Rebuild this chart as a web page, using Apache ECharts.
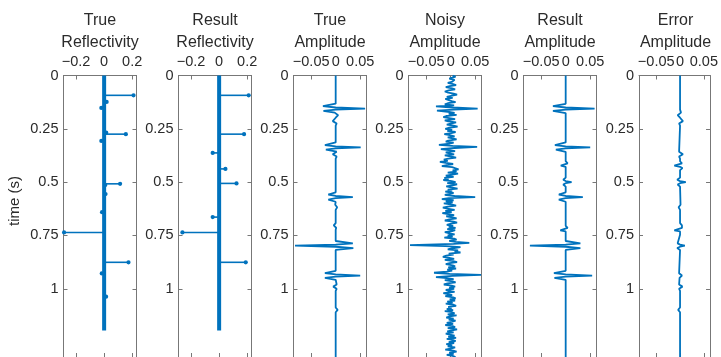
<!DOCTYPE html>
<html>
<head>
<meta charset="utf-8">
<title>Reflectivity and amplitude traces</title>
<script src="https://cdn.jsdelivr.net/npm/echarts@6/dist/echarts.min.js"></script>
<style>
html, body { margin: 0; padding: 0; background: #fff; }
#chart { width: 721px; height: 357px; }
</style>
</head>
<body>
<div id="chart"></div>
<script>
// ---- data ----
const panelTitles = ['True\nReflectivity', 'Result\nReflectivity', 'True\nAmplitude',
    'Noisy\nAmplitude', 'Result\nAmplitude', 'Error\nAmplitude'];
const timeTicks = [0, 0.25, 0.5, 0.75, 1];
const reflTicks = [-0.2, 0, 0.2];
const ampTicks = [-0.05, 0, 0.05];
const timeMax = 1.32;
const reflRange = [-0.29, 0.231];
const ampRange = [-0.0861, 0.0629];

// reflectivity spikes (time s, value)
const reflTrueT = [0.093, 0.124, 0.152, 0.268, 0.275, 0.307, 0.508, 0.514, 0.556, 0.641, 0.736, 0.876, 0.928, 1.037];
const reflTrueV = [0.210, 0.018, -0.020, 0.015, 0.155, -0.020, 0.114, 0.008, 0.010, -0.015, -0.286, 0.174, -0.017, 0.014];
const reflResT = [0.093, 0.275, 0.363, 0.438, 0.506, 0.664, 0.736, 0.876];
const reflResV = [0.211, 0.178, -0.046, 0.045, 0.124, -0.046, -0.262, 0.190];
const reflEnd = 1.196; // last sample of the reflectivity series (all zeros in between)

// amplitude traces, [time, amplitude]
const trueAmp = [
    [0, 0], [0.132, 0], [0.144, -0.026], [0.150, 0], [0.155, 0.060], [0.160, 0], [0.166, -0.025],
    [0.174, -0.002], [0.186, 0.005], [0.198, 0], [0.214, -0.006], [0.225, 0.002], [0.235, 0],
    [0.314, 0], [0.326, -0.022], [0.332, 0], [0.337, 0.051], [0.342, 0], [0.348, -0.020],
    [0.357, 0.002], [0.369, -0.006], [0.380, 0.002], [0.390, 0],
    [0.548, 0], [0.558, -0.015], [0.565, 0], [0.570, 0.035], [0.575, 0], [0.582, -0.015], [0.592, 0],
    [0.606, -0.001], [0.618, 0.003], [0.630, 0], [0.692, 0], [0.703, -0.004], [0.714, 0.001], [0.724, 0],
    [0.776, 0], [0.787, 0.035], [0.793, 0], [0.798, -0.083], [0.803, 0], [0.809, 0.036], [0.818, 0],
    [0.916, 0], [0.927, -0.022], [0.933, 0], [0.938, 0.050], [0.943, 0], [0.949, -0.022], [0.958, 0],
    [0.980, 0.002], [0.990, -0.005], [1.000, 0.002], [1.010, 0],
    [1.088, 0], [1.099, 0.004], [1.110, 0], [1.320, 0]
];

// noisy trace, one sample every 5 ms from t = 0
const noisyDt = 0.005;
const noisyAmp = [
    0.004, 0.010, 0.006, -0.003, 0.008, 0.012, 0.002, -0.006, 0.005, 0.011,
    -0.002, -0.010, 0.003, 0.009, -0.004, -0.012, -0.005, 0.006, 0.013, 0.001,
    -0.008, 0.004, -0.011, -0.015, 0.002, 0.010, -0.006, -0.012, 0.007, -0.030,
    0.004, 0.055, 0.006, -0.028, -0.006, 0.008, -0.004, 0.012, -0.009, -0.015,
    -0.003, 0.009, -0.012, -0.005, 0.011, 0.002, -0.008, 0.006, 0.014, -0.004,
    -0.011, 0.003, -0.007, 0.010, 0.001, -0.013, -0.002, 0.008, -0.006, 0.004,
    0.012, -0.005, -0.010, 0.006, -0.002, -0.024, 0.004, 0.054, 0.008, -0.020,
    -0.004, 0.009, -0.010, -0.003, 0.007, -0.012, 0.002, 0.011, -0.005, -0.014,
    -0.006, -0.022, -0.010, 0.005, -0.008, -0.018, 0.003, 0.010, 0.016, 0.004,
    0.012, -0.006, 0.015, 0.003, -0.010, 0.006, -0.013, -0.004, -0.015, 0.002,
    0.010, -0.007, 0.013, 0.004, -0.009, 0.001, 0.014, -0.006, 0.003, -0.011,
    0.006, -0.002, -0.012, 0.008, 0.050, -0.004, -0.018, 0.006, -0.010, 0.004,
    -0.014, 0.003, 0.011, -0.006, -0.016, -0.004, 0.008, -0.011, 0.002, -0.017,
    -0.005, 0.007, -0.009, 0.004, 0.012, -0.003, -0.012, 0.006, 0.013, 0.001,
    -0.008, 0.005, -0.004, 0.010, -0.007, 0.009, 0.003, -0.012, -0.002, 0.008,
    -0.006, 0.004, -0.013, 0.007, 0.012, -0.003, 0.010, 0.038, 0.006, -0.083,
    -0.010, 0.020, 0.004, -0.006, 0.015, 0.008, 0.020, -0.004, 0.006, -0.009,
    -0.016, -0.003, 0.007, -0.012, 0.005, 0.013, -0.002, -0.010, 0.004, 0.009,
    -0.005, 0.011, -0.007, 0.003, -0.008, -0.034, -0.002, 0.062, 0.004, -0.030,
    -0.008, 0.006, -0.012, 0.004, 0.010, -0.006, -0.014, 0.002, 0.009, -0.003,
    0.007, -0.010, -0.004, 0.008, -0.015, -0.006, 0.003, -0.011, 0.005, 0.010,
    -0.002, 0.009, -0.007, 0.004, -0.010, 0.006, 0.011, -0.005, 0.002, -0.008,
    0.005, -0.012, 0.003, 0.008, -0.006, 0.012, -0.002, -0.009, 0.006, -0.004,
    0.010, 0.002, -0.008, 0.005, -0.011, 0.004, 0.009, -0.006, 0.013, 0.003,
    -0.007, 0.006, -0.010, -0.002, 0.008, -0.005, 0.011, -0.008, 0.004, 0.010,
    -0.004, 0.007, -0.009, 0.003, -0.006, 0.009, 0.002, -0.011, 0.005, 0.012,
    -0.003, 0.006, -0.008, 0.004, 0.010
];

const resultAmp = [
    [0, 0], [0.133, 0], [0.144, -0.026], [0.150, 0], [0.155, 0.059], [0.160, 0], [0.166, -0.026], [0.176, 0],
    [0.314, 0], [0.326, -0.022], [0.332, 0], [0.337, 0.050], [0.342, 0], [0.348, -0.020], [0.358, 0],
    [0.402, 0], [0.412, 0.004], [0.418, 0], [0.423, -0.010], [0.428, 0], [0.434, 0.004], [0.444, 0],
    [0.479, 0], [0.489, -0.005], [0.495, 0], [0.500, 0.012], [0.505, 0], [0.511, -0.005], [0.521, 0],
    [0.548, 0], [0.558, -0.014], [0.565, 0], [0.570, 0.035], [0.575, 0], [0.582, -0.014], [0.592, 0],
    [0.705, 0], [0.715, 0.004], [0.721, 0], [0.726, -0.011], [0.731, 0], [0.737, 0.004], [0.747, 0],
    [0.776, 0], [0.787, 0.030], [0.793, 0], [0.798, -0.073], [0.803, 0], [0.809, 0.030], [0.818, 0],
    [0.916, 0], [0.927, -0.024], [0.933, 0], [0.938, 0.054], [0.943, 0], [0.949, -0.023], [0.958, 0],
    [1.320, 0]
];

const errorAmp = [
    [0, 0], [0.150, 0], [0.155, 0.001], [0.160, 0], [0.174, 0.002], [0.186, -0.005], [0.198, 0],
    [0.214, 0.006], [0.225, -0.002], [0.235, 0],
    [0.357, -0.002], [0.369, 0.006], [0.380, -0.002], [0.390, 0],
    [0.402, 0], [0.412, 0.004], [0.418, 0], [0.423, -0.012], [0.428, 0], [0.434, 0.005], [0.444, 0],
    [0.479, 0], [0.489, -0.006], [0.495, 0], [0.500, 0.012], [0.505, 0], [0.511, -0.005], [0.521, 0],
    [0.606, 0.001], [0.618, -0.003], [0.630, 0], [0.692, 0], [0.703, 0.004],
    [0.715, 0.004], [0.721, 0], [0.726, -0.012], [0.731, 0], [0.737, 0.004], [0.747, 0],
    [0.787, -0.005], [0.793, 0], [0.798, 0.010], [0.803, 0], [0.809, -0.006], [0.818, 0],
    [0.927, -0.002], [0.938, 0.004], [0.949, -0.001], [0.980, -0.002], [0.990, 0.005], [1.000, -0.002], [1.010, 0],
    [1.088, 0], [1.099, -0.004], [1.110, 0], [1.320, 0]
];

// ---- layout / style ----
const panelLeft = [63.5, 178.5, 293.5, 408.5, 523.5, 639];
const panelWidth = 73;
const plotTop = 75.5;
const pxPerSecond = 214.2;
const blue = '#0072BD';
const axisColor = '#777777';
const textColor = '#2b2b2b';
const fontFamily = '"Liberation Sans", Arial, Helvetica, sans-serif';

const chart = echarts.init(document.getElementById('chart'), null, { renderer: 'canvas' });

// matlab style tick labels use a real minus sign
function tickText (v) {
    return String(v).replace('-', '\u2212');
}

function stemItem (params, api) {
    const tip = api.coord([api.value(0), api.value(1)]);
    const base = api.coord([0, api.value(1)]);
    return {
        type: 'group',
        children: [
            { type: 'line', shape: { x1: base[0], y1: base[1], x2: tip[0], y2: tip[1] }, style: { stroke: blue, lineWidth: 1.6 } },
            { type: 'circle', shape: { cx: tip[0], cy: tip[1], r: 2.1 }, style: { fill: blue } }
        ]
    };
}

const grids = [];
const xAxes = [];
const yAxes = [];
const graphics = [];
for (let i = 0; i < 6; i++) {
    const isRefl = i < 2;
    const range = isRefl ? reflRange : ampRange;
    const ticks = isRefl ? reflTicks : ampTicks;
    grids.push({ left: panelLeft[i], top: plotTop, width: panelWidth, height: timeMax * pxPerSecond });
    // top axis with labels
    xAxes.push({
        type: 'value', gridIndex: i, position: 'top', min: range[0], max: range[1],
        axisLine: { show: true, onZero: false, lineStyle: { color: axisColor, width: 1 } },
        axisTick: { show: true, inside: true, length: 4, customValues: ticks, lineStyle: { color: axisColor } },
        axisLabel: { customValues: ticks, formatter: tickText, margin: 6, fontSize: 14.5, color: textColor, fontFamily: fontFamily },
        splitLine: { show: false }
    });
    yAxes.push({
        type: 'value', gridIndex: i, position: 'left', inverse: true, min: 0, max: timeMax,
        axisLine: { show: true, onZero: false, lineStyle: { color: axisColor, width: 1 } },
        axisTick: { show: true, inside: true, length: 4, customValues: timeTicks, lineStyle: { color: axisColor } },
        axisLabel: { customValues: timeTicks, margin: 5, fontSize: 14.5, color: textColor, fontFamily: fontFamily },
        splitLine: { show: false }
    });
    graphics.push({
        type: 'text', x: panelLeft[i] + panelWidth / 2, y: 10,
        style: {
            text: panelTitles[i], align: 'center', verticalAlign: 'top',
            fontSize: 16, lineHeight: 22, fontFamily: fontFamily, fill: textColor
        }
    });
}
// mirrored box axes (bottom / right), ticks only
for (let i = 0; i < 6; i++) {
    const isRefl = i < 2;
    const range = isRefl ? reflRange : ampRange;
    const ticks = isRefl ? reflTicks : ampTicks;
    xAxes.push({
        type: 'value', gridIndex: i, position: 'bottom', min: range[0], max: range[1],
        axisLine: { show: true, onZero: false, lineStyle: { color: axisColor, width: 1 } },
        axisTick: { show: true, inside: true, length: 4, customValues: ticks, lineStyle: { color: axisColor } },
        axisLabel: { show: false },
        splitLine: { show: false }
    });
    yAxes.push({
        type: 'value', gridIndex: i, position: 'right', inverse: true, min: 0, max: timeMax,
        axisLine: { show: true, onZero: false, lineStyle: { color: axisColor, width: 1 } },
        axisTick: { show: true, inside: true, length: 4, customValues: timeTicks, lineStyle: { color: axisColor } },
        axisLabel: { show: false },
        splitLine: { show: false }
    });
}

graphics.push({
    type: 'text', x: 15, y: 201, rotation: Math.PI / 2,
    style: {
        text: 'time (s)', align: 'center', verticalAlign: 'middle',
        fontSize: 15, fontFamily: fontFamily, fill: textColor
    }
});

function zipStems (times, values) {
    return times.map((t, k) => [values[k], t]);
}
function swapPairs (pairs) {
    return pairs.map(p => [p[1], p[0]]);
}
function traceSeries (idx, data) {
    return {
        type: 'line', xAxisIndex: idx, yAxisIndex: idx, data: data,
        showSymbol: false, symbol: 'none', silent: true,
        lineStyle: { color: blue, width: 1.8 }
    };
}

const noisyData = noisyAmp.map((a, k) => [a, k * noisyDt]);

const series = [];
for (let i = 0; i < 2; i++) {
    // zero-valued samples of the stem plot form a thick line at 0
    series.push({
        type: 'line', xAxisIndex: i, yAxisIndex: i, data: [[0, 0], [0, reflEnd]],
        showSymbol: false, symbol: 'none', silent: true,
        lineStyle: { color: blue, width: 4 }
    });
    series.push({
        type: 'custom', xAxisIndex: i, yAxisIndex: i, renderItem: stemItem, silent: true,
        data: i === 0 ? zipStems(reflTrueT, reflTrueV) : zipStems(reflResT, reflResV)
    });
}
series.push(traceSeries(2, swapPairs(trueAmp)));
series.push(traceSeries(3, noisyData));
series.push(traceSeries(4, swapPairs(resultAmp)));
series.push(traceSeries(5, swapPairs(errorAmp)));

chart.setOption({
    backgroundColor: '#ffffff',
    animation: false,
    grid: grids,
    xAxis: xAxes,
    yAxis: yAxes,
    graphic: graphics,
    series: series
});
</script>
</body>
</html>
